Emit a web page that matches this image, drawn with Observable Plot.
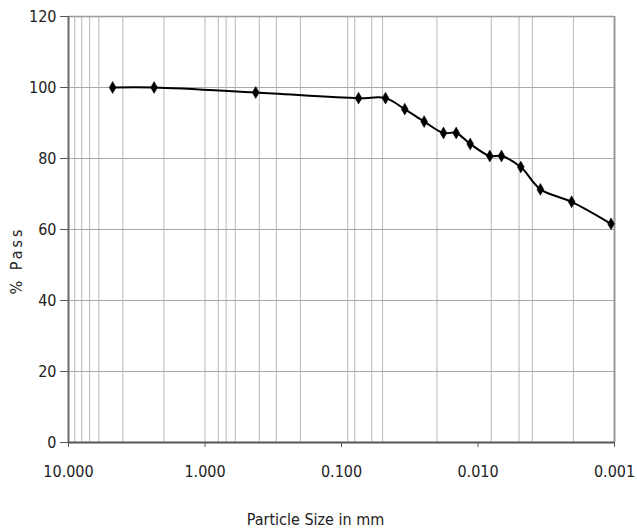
<!DOCTYPE html>
<html><head><meta charset="utf-8">
<script src="https://cdn.jsdelivr.net/npm/d3@7"></script>
<script src="https://cdn.jsdelivr.net/npm/@observablehq/plot@0.6"></script>
<style>body{margin:0;background:#fff}</style>
</head><body><div id="chart"></div>
<script>
const sizes = [4.75, 2.36, 0.425, 0.075, 0.0476, 0.0344, 0.0248, 0.0179, 0.01445, 0.0114, 0.0082, 0.00673, 0.00486, 0.00349, 0.00206, 0.00106];
const pass = [100, 100, 98.6, 97.0, 97.0, 93.9, 90.4, 87.2, 87.2, 84.1, 80.7, 80.7, 77.6, 71.3, 67.8, 61.6];
const gridX = [9, 8, 7, 6, 4, 2, 1, 0.8, 0.7, 0.6, 0.4, 0.3, 0.2, 0.09, 0.08, 0.06, 0.05, 0.02, 0.008, 0.005, 0.004, 0.002];
const xTicks = [10, 1, 0.1, 0.01, 0.001];
const yTicks = [0, 20, 40, 60, 80, 100, 120];
const gridY = [20, 40, 60, 80, 100];
const xLabel = "Particle Size in mm";
const yLabel = "% Pass";

const data = sizes.map((s, i) => ({size: s, pass: pass[i]}));
const font = "'DejaVu Sans Condensed', 'DejaVu Sans', sans-serif";

const chart = Plot.plot({
  width: 637,
  height: 528,
  marginLeft: 68,
  marginRight: 23,
  marginTop: 16,
  marginBottom: 86,
  style: {fontFamily: font, fontStretch: "condensed", color: "#222", background: "#fff"},
  x: {type: "log", domain: [10, 0.001]},
  y: {domain: [0, 120]},
  marks: [
    Plot.ruleX(gridX, {stroke: "#b8b8b8", strokeWidth: 1}),
    Plot.ruleY(gridY, {stroke: "#a8a8a8", strokeWidth: 1}),
    Plot.ruleY([120], {stroke: "#999", strokeWidth: 1.5}),
    Plot.ruleX([0.001], {stroke: "#999", strokeWidth: 2}),
    Plot.ruleX([10], {stroke: "#6a6a6a", strokeWidth: 2}),
    Plot.ruleY([0], {stroke: "#555", strokeWidth: 2}),
    Plot.axisX({ticks: xTicks, tickFormat: d3.format(".3f"), tickSize: 5, tickPadding: 18, label: null, fontSize: 16, stroke: "#555"}),
    Plot.axisY({ticks: yTicks, tickSize: 8, tickPadding: 4, label: null, fontSize: 16, stroke: "#555"}),
    Plot.line(data, {x: "size", y: "pass", curve: "catmull-rom", stroke: "#000", strokeWidth: 2}),
    Plot.dot(data, {x: "size", y: "pass", symbol: "diamond", r: 3.6, fill: "#000", stroke: "#000", strokeWidth: 0.5}),
    Plot.text([xLabel], {frameAnchor: "bottom", dy: 82, dx: -26, fontSize: 16, fill: "#222"}),
    Plot.text([yLabel], {frameAnchor: "left", textAnchor: "middle", rotate: -90, dx: -52, dy: 31, fontSize: 16, fill: "#222"})
  ]
});
d3.select(chart).selectAll("text").filter(function() { return this.textContent === yLabel; })
  .attr("letter-spacing", "3px");
document.getElementById("chart").appendChild(chart);
</script>
</body></html>
